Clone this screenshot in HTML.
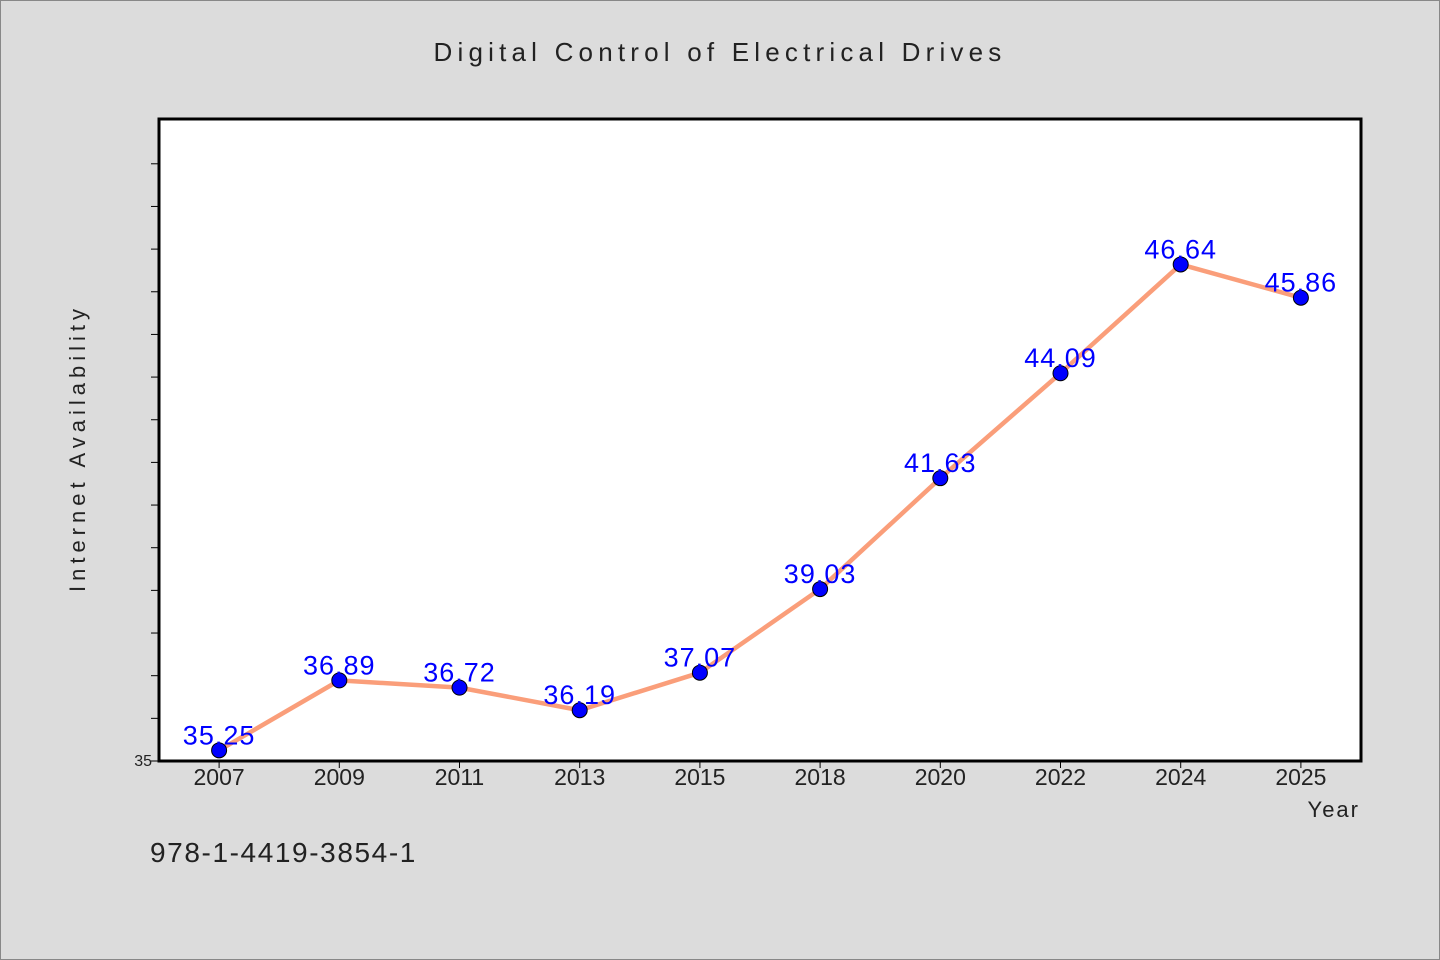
<!DOCTYPE html>
<html><head><meta charset="utf-8"><style>
body{margin:0;background:#dcdcdc;}
svg{display:block;font-family:"WenQuanYi Zen Hei Mono","WenQuanYi Zen Hei","Liberation Sans",sans-serif;}
</style></head><body>
<svg id="chart" width="1440" height="960">
<rect x="0.5" y="0.5" width="1439" height="959" fill="#dcdcdc" stroke="#888"/>
<text x="720" y="61" text-anchor="middle" font-size="26" letter-spacing="5.2" fill="#222">Digital Control of Electrical Drives</text>
<rect x="159" y="119" width="1202" height="642" fill="#fff" stroke="#000" stroke-width="3"/>
<text transform="translate(85,448) rotate(-90)" text-anchor="middle" font-size="22" letter-spacing="5" fill="#222">Internet Availability</text>
<text x="1360" y="817" text-anchor="end" font-size="22" letter-spacing="2" fill="#222">Year</text>
<text x="150" y="862" font-size="28" letter-spacing="1.6" fill="#222">978-1-4419-3854-1</text>
<g id="ticks"></g><g id="marks"></g>
</svg>
<script>
const categories=["2007","2009","2011","2013","2015","2018","2020","2022","2024","2025"];
const values=[35.25,36.89,36.72,36.19,37.07,39.03,41.63,44.09,46.64,45.86];
const yTicks=[35,36,37,38,39,40,41,42,43,44,45,46,47,48,49];
const yMin=35,yMax=50.05;
const L=159,R=1361,T=119,B=761;
const band=(R-L)/categories.length;
const x=i=>L+band*(i+0.5);
const y=v=>B-(v-yMin)/(yMax-yMin)*(B-T);
const NS="http://www.w3.org/2000/svg";
const tg=document.getElementById('ticks'),mg=document.getElementById('marks');
function mk(tag,attrs,parent){const e=document.createElementNS(NS,tag);for(const k in attrs)e.setAttribute(k,attrs[k]);parent.appendChild(e);return e;}
yTicks.forEach(t=>{
  const yy=y(t);
  const l=mk('line',{x1:L-8,x2:L-1,y1:yy,y2:yy,stroke:'#000','stroke-width':1},tg);
  
  
});
const lab=mk('text',{x:L-7,y:B+5,'text-anchor':'end','font-size':16,fill:'#222'},tg);
lab.textContent=String(yTicks[0]);


categories.forEach((c,i)=>{
  const l=mk('line',{x1:x(i),x2:x(i),y1:B+1,y2:B+7,stroke:'#000','stroke-width':1},tg);
  
  
  const t=mk('text',{x:x(i),y:B+24,'text-anchor':'middle','font-size':23,fill:'#222'},tg);
  t.textContent=c;
  
  
});
const pl=mk('polyline',{points:values.map((v,i)=>x(i)+','+y(v)).join(' '),fill:'none',stroke:'#fa9e7a','stroke-width':4.5,'stroke-linejoin':'round'},mg);


values.forEach((v,i)=>{
  const c=mk('circle',{cx:x(i),cy:y(v),r:7.5,fill:'#0000ff',stroke:'#000','stroke-width':1},mg);
  
  
});
values.forEach((v,i)=>{
  const t=mk('text',{x:x(i),y:y(v)-6,'text-anchor':'middle','font-size':27,'letter-spacing':1,fill:'#0000ff'},mg);
  t.textContent=v.toFixed(2);
  
  
});
</script>
</body></html>
